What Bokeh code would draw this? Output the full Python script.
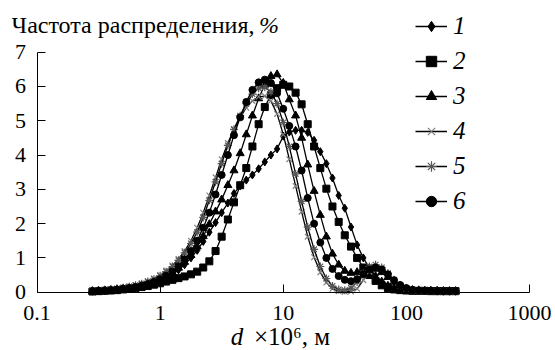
from bokeh.plotting import figure
from bokeh.models import Range1d, FixedTicker, CustomJSTickFormatter, Legend, LegendItem, LogAxis
from bokeh.embed import file_html
from bokeh.resources import INLINE

# particle size d x 10^6, m
sizes = [0.282, 0.316, 0.355, 0.398, 0.447, 0.501, 0.562, 0.631, 0.708, 0.794,
         0.891, 1.00, 1.12, 1.26, 1.41, 1.58, 1.78, 2.00, 2.24, 2.51,
         2.82, 3.16, 3.55, 3.98, 4.47, 5.01, 5.62, 6.31, 7.08, 7.94,
         8.91, 10.0, 11.2, 12.6, 14.1, 15.8, 17.8, 20.0, 22.4, 25.1,
         28.2, 31.6, 35.5, 39.8, 44.7, 50.1, 56.2, 63.1, 70.8, 79.4,
         89.1, 100, 112, 126, 141, 158, 178, 200, 224, 251]

s1 = [0.03, 0.04, 0.05, 0.06, 0.08, 0.10, 0.12, 0.15, 0.19, 0.23,
      0.28, 0.34, 0.42, 0.52, 0.65, 0.80, 1.00, 1.22, 1.48, 1.75,
      2.03, 2.32, 2.60, 2.88, 3.10, 3.27, 3.42, 3.60, 3.80, 4.00,
      4.18, 4.55, 4.67, 4.72, 4.72, 4.66, 4.43, 4.10, 3.75, 3.33,
      2.82, 2.45, 1.90, 1.38, 1.00, 0.70, 0.48, 0.32, 0.20, 0.12,
      0.08, 0.06, 0.05, 0.05, 0.04, 0.04, 0.04, 0.03, 0.03, 0.03]

s2 = [0.02, 0.03, 0.04, 0.05, 0.06, 0.08, 0.10, 0.12, 0.15, 0.18,
      0.22, 0.26, 0.31, 0.36, 0.41, 0.46, 0.52, 0.60, 0.72, 0.90,
      1.20, 1.62, 2.12, 2.62, 3.12, 3.62, 4.25, 4.90, 5.40, 5.75,
      5.95, 6.05, 6.00, 5.82, 5.48, 4.90, 4.25, 3.62, 3.02, 2.50,
      2.05, 1.66, 1.33, 1.00, 0.72, 0.50, 0.33, 0.20, 0.12, 0.08,
      0.06, 0.05, 0.04, 0.04, 0.04, 0.03, 0.03, 0.03, 0.03, 0.03]

s3 = [0.03, 0.04, 0.05, 0.06, 0.08, 0.10, 0.12, 0.15, 0.19, 0.24,
      0.30, 0.37, 0.46, 0.57, 0.71, 0.88, 1.08, 1.33, 1.63, 1.98,
      2.35, 2.70, 3.12, 3.55, 4.05, 4.60, 5.15, 5.65, 6.05, 6.30,
      6.35, 6.10, 5.62, 5.15, 4.50, 3.72, 2.95, 2.25, 1.62, 1.12,
      0.80, 0.62, 0.56, 0.58, 0.65, 0.70, 0.68, 0.58, 0.44, 0.30,
      0.18, 0.10, 0.06, 0.05, 0.04, 0.04, 0.04, 0.03, 0.03, 0.03]

s4 = [0.04, 0.05, 0.07, 0.09, 0.11, 0.14, 0.17, 0.21, 0.26, 0.32,
      0.40, 0.50, 0.63, 0.78, 0.97, 1.20, 1.50, 1.88, 2.32, 2.82,
      3.35, 3.88, 4.35, 4.75, 5.10, 5.38, 5.58, 5.70, 5.72, 5.58,
      5.20, 4.60, 3.88, 3.10, 2.35, 1.62, 1.02, 0.58, 0.28, 0.10,
      0.03, 0.01, 0.02, 0.10, 0.35, 0.60, 0.72, 0.68, 0.52, 0.34,
      0.20, 0.11, 0.06, 0.04, 0.03, 0.03, 0.03, 0.02, 0.02, 0.02]

s5 = [0.04, 0.05, 0.06, 0.08, 0.10, 0.13, 0.16, 0.20, 0.25, 0.31,
      0.38, 0.48, 0.60, 0.75, 0.93, 1.15, 1.42, 1.75, 2.18, 2.68,
      3.22, 3.75, 4.28, 4.75, 5.15, 5.50, 5.78, 5.95, 5.98, 5.85,
      5.50, 4.95, 4.25, 3.45, 2.65, 1.90, 1.25, 0.75, 0.40, 0.18,
      0.08, 0.06, 0.12, 0.30, 0.55, 0.75, 0.80, 0.72, 0.55, 0.36,
      0.20, 0.11, 0.07, 0.05, 0.04, 0.04, 0.03, 0.03, 0.03, 0.03]

s6 = [0.03, 0.04, 0.05, 0.06, 0.08, 0.10, 0.12, 0.15, 0.19, 0.24,
      0.30, 0.38, 0.48, 0.60, 0.76, 0.96, 1.20, 1.50, 1.88, 2.32,
      2.85, 3.42, 4.00, 4.58, 5.10, 5.55, 5.90, 6.12, 6.20, 6.10,
      5.80, 5.35, 4.85, 4.25, 3.55, 2.75, 2.00, 1.45, 1.00, 0.68,
      0.47, 0.36, 0.32, 0.38, 0.52, 0.66, 0.72, 0.66, 0.52, 0.35,
      0.21, 0.12, 0.07, 0.05, 0.04, 0.04, 0.03, 0.03, 0.03, 0.03]

series_labels = ["1", "2", "3", "4", "5", "6"]
x_ticks = [0.1, 1, 10, 100, 1000]
y_ticks = [0, 1, 2, 3, 4, 5, 6, 7]
title_text = "Частота распределения,"
title_unit = "%"
xlabel_var = "d"
xlabel_rest = "×10⁶, м"

FONT = "Liberation Serif"

W, H = 555, 350
X0_PX, X1_PX = 36.5, 529.0      # positions of x = 0.1 and x = 1000
Y0_PX, Y7_PX = 291.7, 51.7      # positions of y = 0 and y = 7
ppd = (X1_PX - X0_PX) / 4.0
ppu = (Y0_PX - Y7_PX) / 7.0
x_start = 0.1 * 10 ** (-X0_PX / ppd)
x_end = 1000 * 10 ** ((W - X1_PX) / ppd)
y_end = 7 + Y7_PX / ppu
y_start = -(H - Y0_PX) / ppu

p = figure(width=W, height=H, x_axis_type="log",
           x_range=Range1d(x_start, x_end), y_range=Range1d(y_start, y_end),
           output_backend="svg", toolbar_location=None,
           min_border_left=0, min_border_right=0,
           min_border_top=0, min_border_bottom=0)
p.outline_line_color = None
p.xgrid.visible = False
p.ygrid.visible = False
p.background_fill_color = "white"

for ax in (p.xaxis[0], p.yaxis[0]):
    ax.axis_line_color = "black"
    ax.axis_line_width = 1
    ax.major_tick_in = 8
    ax.major_tick_out = 0
    ax.minor_tick_in = 0
    ax.minor_tick_out = 0
    ax.major_tick_line_color = "black"
    ax.major_label_text_font = FONT
    ax.major_label_text_font_size = "22px"
    ax.major_label_text_color = "black"

p.xaxis[0].ticker = FixedTicker(ticks=x_ticks)
p.xaxis[0].formatter = CustomJSTickFormatter(code="return String(tick)")
p.xaxis[0].major_label_standoff = 14
p.xaxis[0].fixed_location = 0
p.xaxis[0].bounds = (0.1, 1000)
p.yaxis[0].ticker = FixedTicker(ticks=y_ticks)
p.yaxis[0].bounds = (0, 7)
p.yaxis[0].major_label_standoff = 11
p.yaxis[0].fixed_location = 0.1


def text_axis(place, y_px, center_px, text, size, style, standoff):
    """An axis without ticks used only to carry a text label (not clipped)."""
    end = 0.1 * 10 ** ((2 * center_px - 2 * X0_PX) / ppd)
    ax = LogAxis(fixed_location=(Y0_PX - y_px) / ppu, bounds=(0.1, end),
                 ticker=FixedTicker(ticks=[]), axis_line_color=None,
                 major_tick_line_color=None, minor_tick_line_color=None,
                 major_label_text_font_size="0px",
                 axis_label=text, axis_label_text_font=FONT,
                 axis_label_text_font_size=size, axis_label_text_font_style=style,
                 axis_label_text_color="black", axis_label_standoff=standoff)
    p.add_layout(ax, place)


text_axis("above", 40, 132, title_text, "24px", "normal", 3)
text_axis("above", 40, 268, title_unit, "24px", "italic", 3)
text_axis("below", Y0_PX, 236, xlabel_var, "25px", "italic", 30)
text_axis("below", Y0_PX, 291, xlabel_rest, "25px", "normal", 30)

data = [s1, s2, s3, s4, s5, s6]
styles = [
    dict(marker="diamond", size=8, fill_color="black", line_color="black"),
    dict(marker="square", size=7, fill_color="black", line_color="black"),
    dict(marker="triangle", size=8, fill_color="black", line_color="black"),
    dict(marker="x", size=8, fill_color=None, line_color="#808080", line_width=1.2),
    dict(marker="asterisk", size=8, fill_color=None, line_color="#555555", line_width=1.2),
    dict(marker="circle", size=7, fill_color="black", line_color="black"),
]

items = []
for lab, ys, st in zip(series_labels, data, styles):
    lr = p.line(sizes, ys, line_color="black", line_width=1.3)
    sr = p.scatter(sizes, ys, **st)
    items.append(LegendItem(label=lab, renderers=[lr, sr]))

legend = Legend(items=items, location=(415, 135), orientation="vertical",
                glyph_width=32, glyph_height=26, label_height=26, spacing=7,
                padding=0, margin=0, border_line_color=None,
                background_fill_alpha=0, label_standoff=6,
                label_text_font=FONT, label_text_font_style="italic",
                label_text_font_size="25px", label_text_color="black")
p.add_layout(legend)

with open("out.html", "w") as f:
    f.write(file_html(p, INLINE))
